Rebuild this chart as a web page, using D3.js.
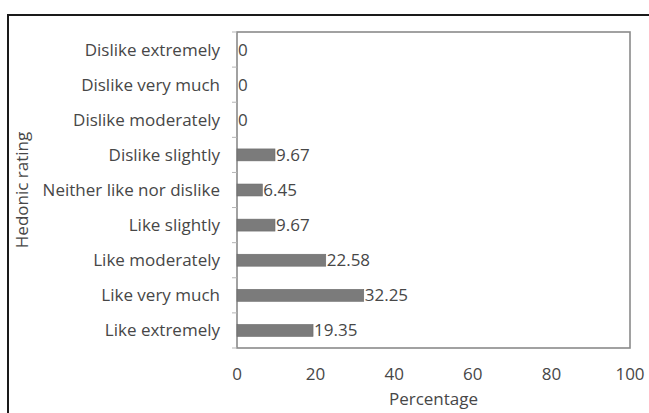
<!DOCTYPE html>
<html>
<head>
<meta charset="utf-8">
<script src="https://cdn.jsdelivr.net/npm/d3@7"></script>
<style>
  html, body { margin: 0; padding: 0; background: #fff; }
  svg { display: block; }
  text { font-family: "Open Sans", Lato, sans-serif; fill: #474747; }
</style>
</head>
<body>
<svg id="chart" width="649" height="413"></svg>
<script>
// Hedonic rating categories, top to bottom
const categories = [
  "Dislike extremely",
  "Dislike very much",
  "Dislike moderately",
  "Dislike slightly",
  "Neither like nor dislike",
  "Like slightly",
  "Like moderately",
  "Like very much",
  "Like extremely"
];
// Percentage of responses per category
const percentages = [0, 0, 0, 9.67, 6.45, 9.67, 22.58, 32.25, 19.35];
const valueLabels = ["0", "0", "0", "9.67", "6.45", "9.67", "22.58", "32.25", "19.35"];
const xTicks = [0, 20, 40, 60, 80, 100];

const svg = d3.select("#chart");
const plot = { left: 237, right: 630, top: 32, bottom: 348 };
const fs = 17;

// Outer frame
svg.append("path")
  .attr("d", `M8,420 L8,15 L660,15`)
  .attr("fill", "none")
  .attr("stroke", "#1a1a1a")
  .attr("stroke-width", 2);

const x = d3.scaleLinear().domain([0, 100]).range([plot.left, plot.right]);
const y = d3.scaleBand().domain(categories).range([plot.top, plot.bottom]).paddingInner(0.66).paddingOuter(0.33);
const band = d3.scaleBand().domain(categories).range([plot.top, plot.bottom]);

// Plot area border
svg.append("rect")
  .attr("x", plot.left).attr("y", plot.top)
  .attr("width", plot.right - plot.left).attr("height", plot.bottom - plot.top)
  .attr("fill", "none").attr("stroke", "#8a8a8a").attr("stroke-width", 1.6);

// Category separator ticks on the left axis
const bounds = categories.map(c => band(c)).concat([plot.bottom]);
svg.append("g").selectAll("line").data(bounds).join("line")
  .attr("x1", plot.left - 5).attr("x2", plot.left)
  .attr("y1", d => d).attr("y2", d => d)
  .attr("stroke", "#b5b5b5").attr("stroke-width", 1);

// Bars
svg.append("g").selectAll("rect").data(percentages).join("rect")
  .attr("x", x(0))
  .attr("y", (d, i) => y(categories[i]))
  .attr("width", d => x(d) - x(0))
  .attr("height", y.bandwidth())
  .attr("fill", "#7b7b7b")
  .attr("stroke", "#6a6a6a").attr("stroke-width", 0.6);

// Value labels
svg.append("g").selectAll("text").data(percentages).join("text")
  .attr("x", d => x(d) + 1)
  .attr("y", (d, i) => band(categories[i]) + band.bandwidth() / 2)
  .attr("dy", "0.35em")
  .attr("font-size", fs)
  .text((d, i) => valueLabels[i]);

// Category labels
svg.append("g").selectAll("text").data(categories).join("text")
  .attr("x", plot.left - 17)
  .attr("y", d => band(d) + band.bandwidth() / 2)
  .attr("dy", "0.35em")
  .attr("text-anchor", "end")
  .attr("font-size", fs)
  .text(d => d);

// X axis tick labels
svg.append("g").selectAll("text").data(xTicks).join("text")
  .attr("x", d => x(d))
  .attr("y", 374)
  .attr("dy", "0.35em")
  .attr("text-anchor", "middle")
  .attr("font-size", fs)
  .text(d => d);

// Axis titles
svg.append("text")
  .attr("x", x(50)).attr("y", 399).attr("dy", "0.35em")
  .attr("text-anchor", "middle").attr("font-size", fs)
  .text("Percentage");

svg.append("text")
  .attr("transform", `translate(28, ${(plot.top + plot.bottom) / 2}) rotate(-90)`)
  .attr("text-anchor", "middle").attr("font-size", fs)
  .text("Hedonic rating");
</script>
</body>
</html>
